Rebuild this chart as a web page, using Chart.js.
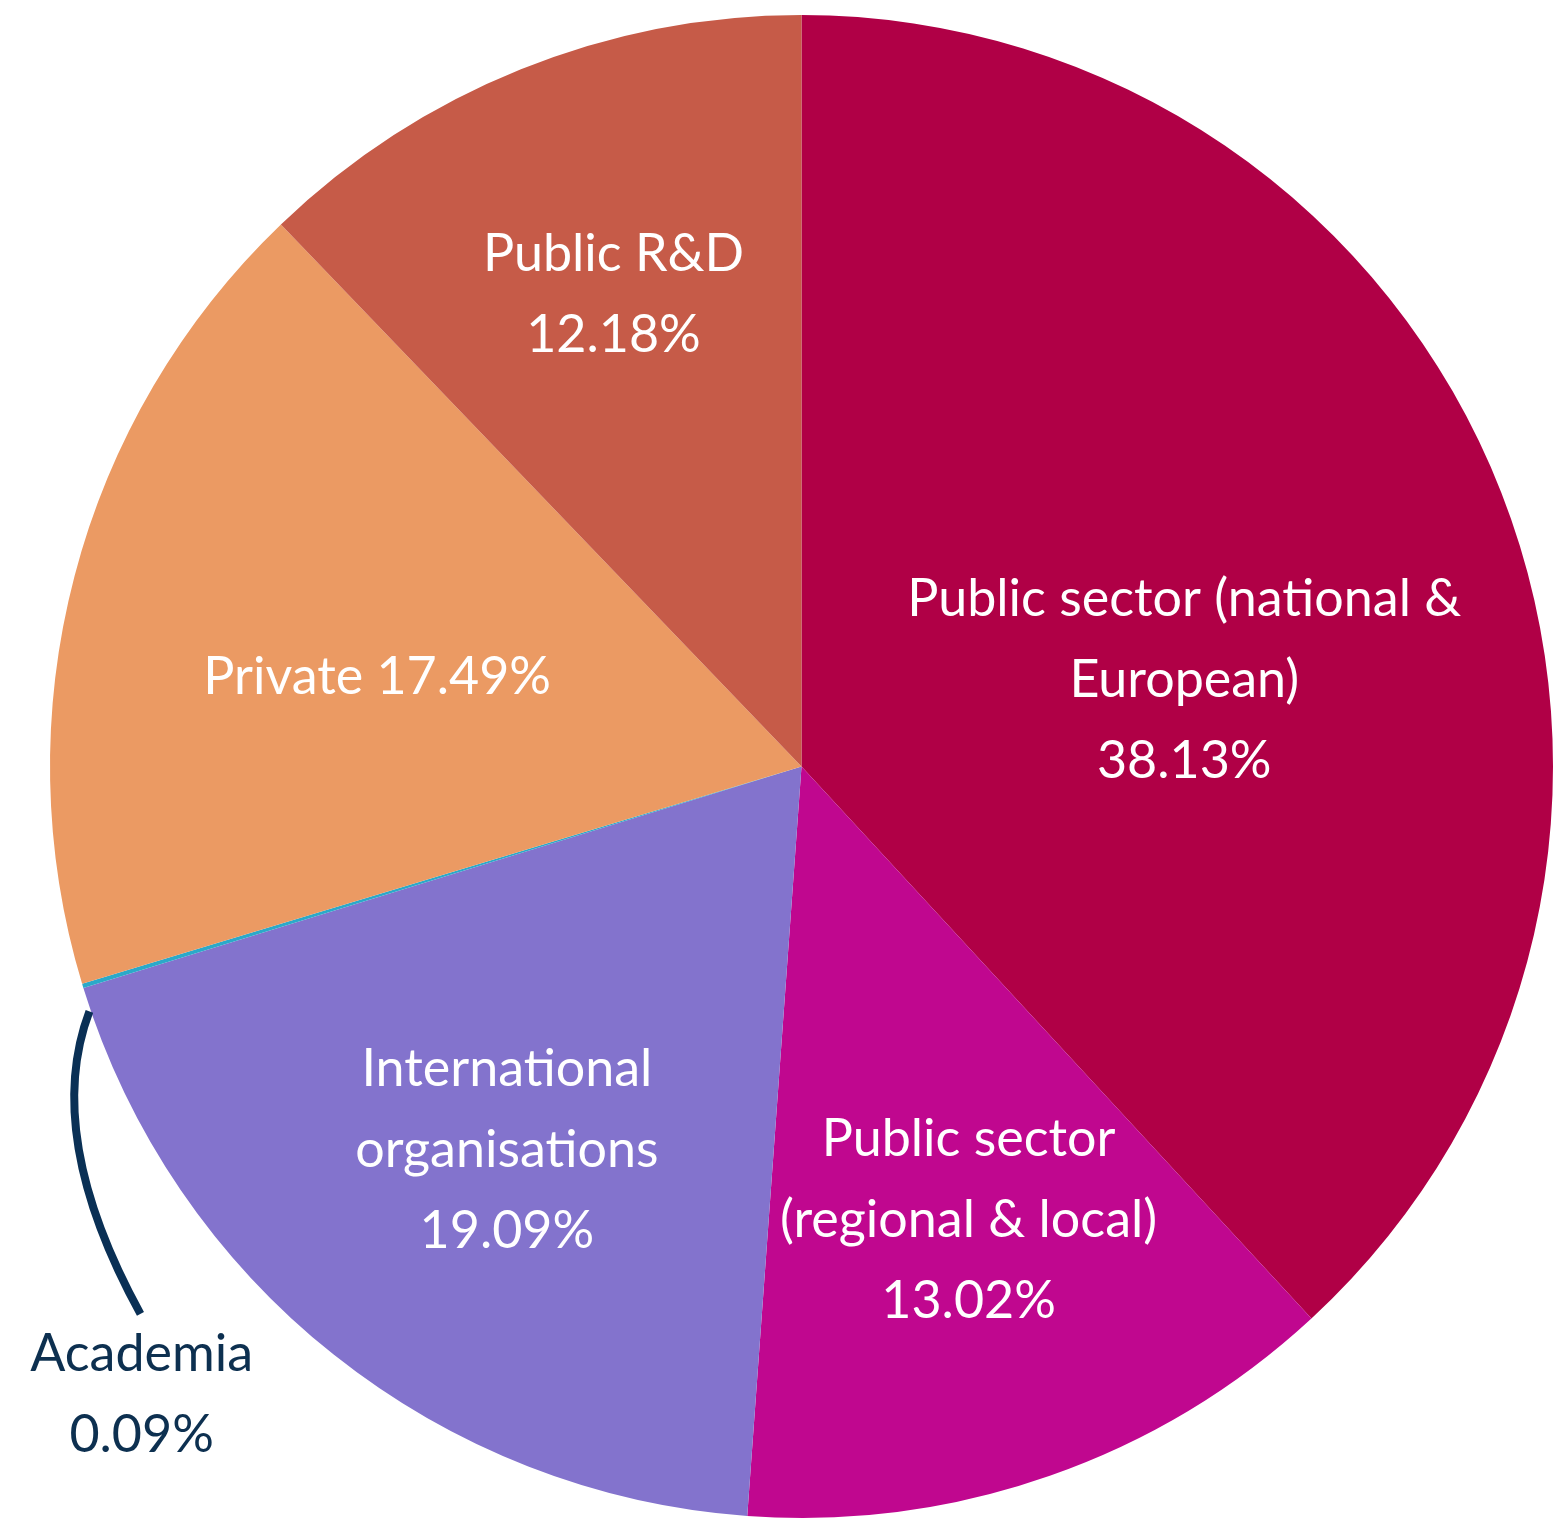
<!DOCTYPE html>
<html>
<head>
<meta charset="utf-8">
<script src="https://cdn.jsdelivr.net/npm/chart.js@4.4.1/dist/chart.umd.min.js"></script>
<style>
  html, body { margin: 0; padding: 0; background: #ffffff; }
  #wrap { width: 1557px; height: 1525px; }
</style>
</head>
<body>
<div id="wrap"><canvas id="pie" width="1557" height="1525"></canvas></div>
<script>
// slices, clockwise from 12 o'clock
const categories = ['Public sector (national & European)', 'Public sector (regional & local)',
                    'International organisations', 'Academia', 'Private', 'Public R&D'];
const shares = [38.13, 13.02, 19.09, 0.09, 17.49, 12.18];
const sliceColors = ['#B00046', '#C0078F', '#8373CD', '#2BA9C9', '#EB9A63', '#C65B48'];

// label text as it is broken in the picture
const labelLines = [
    ['Public sector (national &', 'European)', '38.13%'],
    ['Public sector', '(regional & local)', '13.02%'],
    ['International', 'organisations', '19.09%'],
    ['Academia', '0.09%'],
    ['Private 17.49%'],
    ['Public R&D', '12.18%']
];
// where each label sits: fraction of radius, and degrees moved off the slice middle
const labelRadius = [0.522, 0.644, 0.644, 1.212, 0.577, 0.676];
const labelTurn = [8.7, -0.9, -1.0, -26.6, -2.8, 0.2];
const labelColor = ['#fff', '#fff', '#fff', '#0D3050', '#fff', '#fff'];

const pieLabels = {
    id: 'pieLabels',
    afterDatasetsDraw(chart) {
        const ctx = chart.ctx;
        const arcs = chart.getDatasetMeta(0).data;
        const lineGap = 81;

        function spot(arc, turnDeg, frac) {
            const mid = (arc.startAngle + arc.endAngle) / 2 + turnDeg * Math.PI / 180;
            return {
                x: arc.x + Math.cos(mid) * arc.outerRadius * frac,
                y: arc.y + Math.sin(mid) * arc.outerRadius * frac
            };
        }

        ctx.save();
        // curved leader line for the tiny Academia slice
        const ac = arcs[3];
        const p0 = spot(ac, -2.0, 1.002);
        const p1 = spot(ac, -8.95, 1.123);
        const p2 = spot(ac, -22.65, 1.142);
        ctx.beginPath();
        ctx.moveTo(p0.x, p0.y);
        ctx.quadraticCurveTo(p1.x, p1.y, p2.x, p2.y);
        ctx.strokeStyle = '#0A3055';
        ctx.lineWidth = 8;
        ctx.stroke();

        ctx.font = '52px Lato, "Open Sans", sans-serif';
        ctx.textAlign = 'center';
        ctx.textBaseline = 'middle';
        arcs.forEach((arc, i) => {
            const c = spot(arc, labelTurn[i], labelRadius[i]);
            const lines = labelLines[i];
            ctx.fillStyle = labelColor[i];
            lines.forEach((t, k) => {
                const y = c.y + (k - (lines.length - 1) / 2) * lineGap;
                ctx.fillText(t, c.x, y);
            });
        });
        ctx.restore();
    }
};

new Chart(document.getElementById('pie'), {
    type: 'pie',
    data: {
        labels: categories,
        datasets: [{
            data: shares,
            backgroundColor: sliceColors,
            borderWidth: 0
        }]
    },
    options: {
        responsive: false,
        animation: false,
        layout: { padding: { left: 50, top: 15, right: 4, bottom: 7 } },
        plugins: {
            legend: { display: false },
            tooltip: { enabled: false }
        }
    },
    plugins: [pieLabels]
});
</script>
</body>
</html>
